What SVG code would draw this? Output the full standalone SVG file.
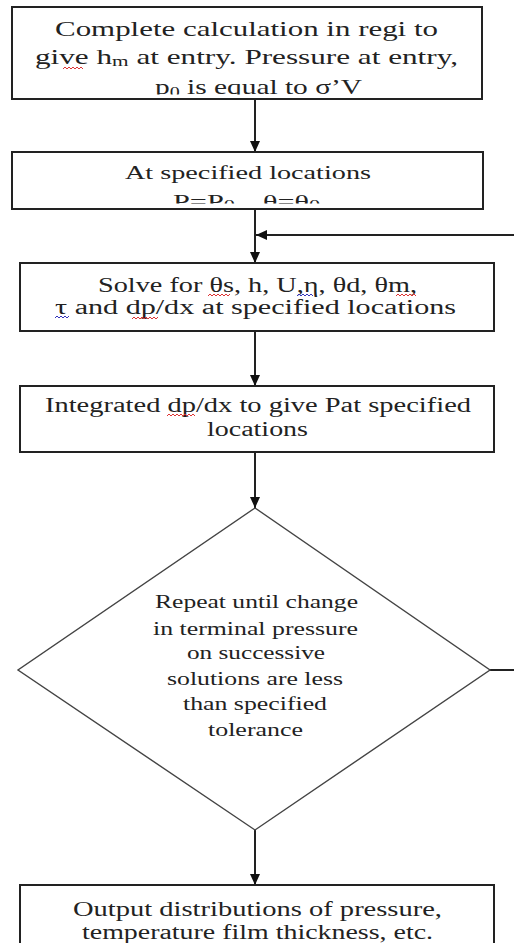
<svg xmlns="http://www.w3.org/2000/svg" width="514" height="943" viewBox="0 0 514 943">
<style>
.box{fill:#fff;stroke:#222;stroke-width:2}
.dia{fill:#fff;stroke:#444;stroke-width:1.4}
.t{font-family:'Liberation Serif','Times New Roman',serif;fill:#222}
.f22{font-size:22px}
.f20{font-size:20px}
.f19{font-size:19px}
.f18{font-size:18px}
.con{fill:none;stroke:#222;stroke-width:2}
.sqr{fill:none;stroke:#d33;stroke-width:1}
.sqb{fill:none;stroke:#33b;stroke-width:1}
</style>
<defs>
<marker id="ah" markerUnits="userSpaceOnUse" markerWidth="12" markerHeight="10" refX="11" refY="5" orient="auto">
<path d="M0,0 L11,5 L0,10 Z" fill="#111"/>
</marker>
<clipPath id="c1"><rect x="12" y="7" width="470" height="87.5"/></clipPath>
<clipPath id="c2"><rect x="12" y="152" width="471" height="51.5"/></clipPath>
</defs>
<rect width="514" height="943" fill="#fff"/>

<g id="connectors">
<line class="con" x1="255" y1="99" x2="255" y2="152" marker-end="url(#ah)"/>
<line class="con" x1="255" y1="209" x2="255" y2="263" marker-end="url(#ah)"/>
<line class="con" x1="255" y1="331" x2="255" y2="386" marker-end="url(#ah)"/>
<line class="con" x1="255" y1="452" x2="255" y2="508" marker-end="url(#ah)"/>
<line class="con" x1="255" y1="830" x2="255" y2="885" marker-end="url(#ah)"/>
<polyline class="con" points="490,670 530,670 530,235 256,235" marker-end="url(#ah)"/>
</g>

<g id="n1">
<rect class="box" x="12" y="7" width="470" height="92"/>
<text class="t f22" x="55" y="36" textLength="383" lengthAdjust="spacingAndGlyphs">Complete calculation in regi to</text>
<text class="t f22" x="35" y="64" textLength="423" lengthAdjust="spacingAndGlyphs">give h<tspan font-size="15" dy="2">m</tspan><tspan dy="-2"> at entry. Pressure at entry,</tspan></text>
<path class="sqr" d="M63,69 l2,-2 l2,2 l2,-2 l2,2 l2,-2 l2,2 l2,-2 l2,2 l2,-2 l2,2"/>
<g clip-path="url(#c1)">
<text class="t f22" x="155" y="94" textLength="207" lengthAdjust="spacingAndGlyphs">p<tspan font-size="15" dy="3">0</tspan><tspan dy="-3"> is equal to σ’V</tspan></text>
</g>
</g>

<g id="n2">
<rect class="box" x="12" y="152" width="471" height="57"/>
<text class="t f19" x="125" y="179" textLength="246" lengthAdjust="spacingAndGlyphs">At specified locations</text>
<g clip-path="url(#c2)">
<text class="t f19" x="173" y="208" textLength="62" lengthAdjust="spacingAndGlyphs">P=P<tspan font-size="14" dy="2">0</tspan></text>
<text class="t f19" x="263" y="208" textLength="57" lengthAdjust="spacingAndGlyphs">θ=θ<tspan font-size="14" dy="2">0</tspan></text>
</g>
</g>

<g id="n3">
<rect class="box" x="20" y="263" width="474" height="68"/>
<text class="t f20" x="98" y="292" textLength="319" lengthAdjust="spacingAndGlyphs">Solve for θs, h, U,η, θd, θm,</text>
<text class="t f20" x="55" y="314" textLength="401" lengthAdjust="spacingAndGlyphs">τ and  dp/dx at  specified  locations</text>
<path class="sqr" d="M208,296 l2,-2 l2,2 l2,-2 l2,2 l2,-2 l2,2 l2,-2 l2,2 l2,-2 l2,2 l2,-2"/>
<path class="sqb" d="M297,296 l2,-2 l2,2 l2,-2 l2,2 l2,-2 l2,2 l2,-2 l2,2"/>
<path class="sqr" d="M396,296 l2,-2 l2,2 l2,-2 l2,2 l2,-2 l2,2 l2,-2 l2,2 l2,-2 l2,2"/>
<path class="sqb" d="M55,318 l2,-2 l2,2 l2,-2 l2,2 l2,-2 l2,2 l2,-2"/>
<path class="sqr" d="M132,319 l2,-2 l2,2 l2,-2 l2,2 l2,-2 l2,2 l2,-2 l2,2 l2,-2 l2,2 l2,-2 l2,2 l2,-2"/>
</g>

<g id="n4">
<rect class="box" x="20" y="386" width="474" height="66"/>
<text class="t f20" x="45" y="412" textLength="426" lengthAdjust="spacingAndGlyphs">Integrated dp/dx to give Pat specified</text>
<text class="t f20" x="207" y="436" textLength="101" lengthAdjust="spacingAndGlyphs">locations</text>
<path class="sqr" d="M167,416 l2,-2 l2,2 l2,-2 l2,2 l2,-2 l2,2 l2,-2 l2,2 l2,-2 l2,2 l2,-2 l2,2 l2,-2 l2,2"/>
</g>

<g id="n5">
<polygon class="dia" points="255,508 490,670 255,830 18,670"/>
<text class="t f18" x="155" y="608" textLength="203" lengthAdjust="spacingAndGlyphs">Repeat until change</text>
<text class="t f18" x="153" y="635" textLength="205" lengthAdjust="spacingAndGlyphs">in terminal pressure</text>
<text class="t f18" x="187" y="659" textLength="138" lengthAdjust="spacingAndGlyphs">on successive</text>
<text class="t f18" x="167" y="685" textLength="176" lengthAdjust="spacingAndGlyphs">solutions are less</text>
<text class="t f18" x="183" y="710" textLength="144" lengthAdjust="spacingAndGlyphs">than specified</text>
<text class="t f18" x="208" y="736" textLength="95" lengthAdjust="spacingAndGlyphs">tolerance</text>
</g>

<g id="n6">
<rect class="box" x="20" y="885" width="474" height="70"/>
<text class="t f20" x="73" y="916" textLength="369" lengthAdjust="spacingAndGlyphs">Output distributions of pressure,</text>
<text class="t f20" x="82" y="939" textLength="351" lengthAdjust="spacingAndGlyphs">temperature film thickness, etc.</text>
</g>
</svg>
